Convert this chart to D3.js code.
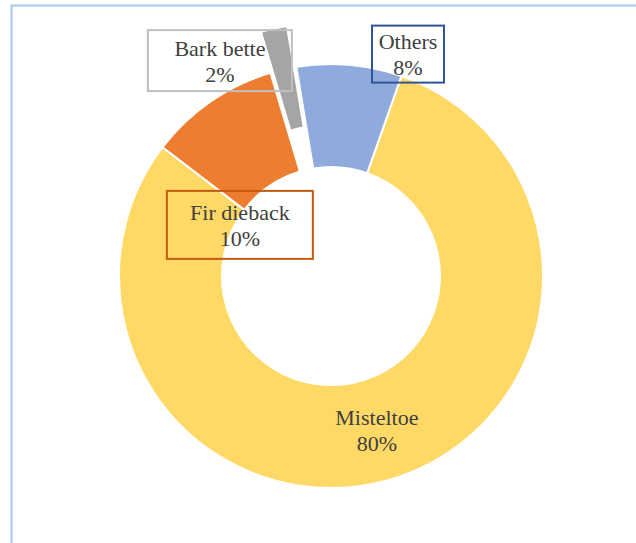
<!DOCTYPE html>
<html>
<head>
<meta charset="utf-8">
<script src="https://cdn.jsdelivr.net/npm/d3@7"></script>
<style>
  body { margin: 0; background: #fff; }
  svg text { font-family: "Liberation Serif", "Times New Roman", serif; }
</style>
</head>
<body>
<div id="chart"></div>
<script>
// data
const labels = ["Misteltoe", "Fir dieback", "Bark bette", "Others"];
const values = [80, 10, 2, 8];
const colors = ["#FFD966", "#ED7D31", "#A5A5A5", "#8FAADC"];
const boxColors = [null, "#C55A11", "#BFBFBF", "#2F5597"];

const w = 636, h = 543;
const cx = 331, cy = 276;
const rOut = 212, rIn = 109;
const startDeg = 19.4; // first slice starts a little right of 12 o'clock

// label offsets from the slice centroid (manually placed in the original)
const labelShift = [[0, 0], [0, 81], [-75, -59], [63, -62]];
const boxSize = [null, [146, 68], [144, 61], [72, 57]];
const explode = [0, 0, 42, 0];

const svg = d3.select("#chart").append("svg").attr("width", w).attr("height", h);

// outer frame, the right/bottom edges fall outside the picture
svg.append("rect")
  .attr("x", 11.5).attr("y", 5.5).attr("width", 700).attr("height", 700)
  .attr("fill", "none").attr("stroke", "#A9C8EA").attr("stroke-width", 2);

const rows = labels.map((l, i) => ({ label: l, value: values[i], i }));

const pie = d3.pie().value(d => d.value).sort(null)
  .startAngle(startDeg * Math.PI / 180)
  .endAngle(startDeg * Math.PI / 180 + 2 * Math.PI);
const arcs = pie(rows);

const arc = d3.arc().innerRadius(rIn).outerRadius(rOut);
const g = svg.append("g").attr("transform", `translate(${cx},${cy})`);

g.selectAll("path").data(arcs).join("path")
  .attr("d", arc)
  .attr("fill", d => colors[d.data.i])
  .attr("stroke", "#fff").attr("stroke-width", 2)
  .attr("transform", d => {
    const a = (d.startAngle + d.endAngle) / 2, e = explode[d.data.i];
    return `translate(${Math.sin(a) * e},${-Math.cos(a) * e})`;
  });

// labels
arcs.forEach(d => {
  const i = d.data.i;
  const [px, py] = arc.centroid(d);
  const lx = px + labelShift[i][0], ly = py + labelShift[i][1];
  if (boxColors[i]) {
    const [bw, bh] = boxSize[i];
    g.append("rect")
      .attr("x", lx - bw / 2).attr("y", ly - bh / 2)
      .attr("width", bw).attr("height", bh)
      .attr("fill", "none").attr("stroke", boxColors[i]).attr("stroke-width", 2);
  }
  const t = g.append("text")
    .attr("x", lx).attr("y", ly)
    .attr("text-anchor", "middle")
    .attr("font-size", 22).attr("fill", "#404040");
  t.append("tspan").attr("x", lx).attr("dy", -5).text(d.data.label);
  t.append("tspan").attr("x", lx).attr("dy", 26).text(Math.round(d.data.value) + "%");
});
</script>
</body>
</html>
